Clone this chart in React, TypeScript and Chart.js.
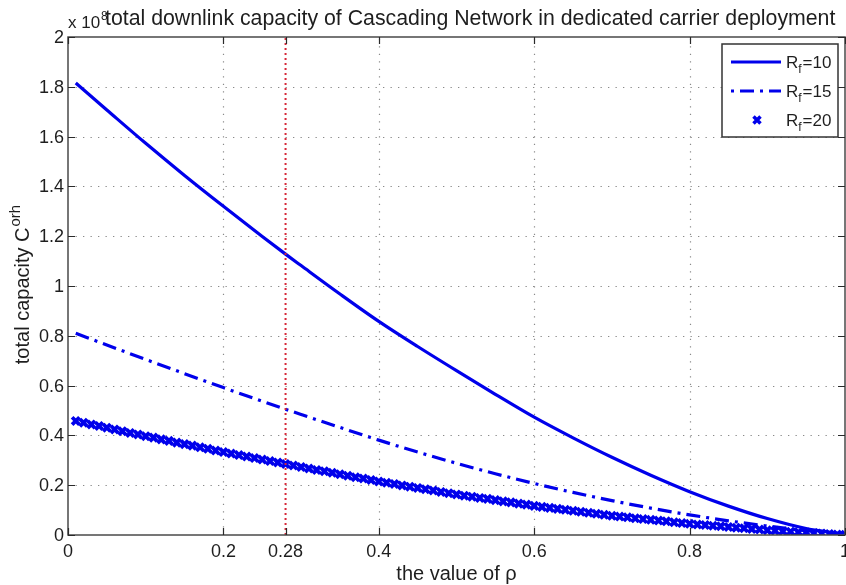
import React, { useEffect, useRef } from "react";
import { Chart, registerables } from "chart.js";

Chart.register(...registerables);

const FONT = '"Liberation Sans", Arial, Helvetica, sans-serif';
const BLUE = "rgb(0, 0, 235)";
const RED = "rgb(214, 40, 57)";
const INK = "#1e1e1e";

// ρ sample points for the two continuous curves
const rhoCurve = [0.01, 0.05, 0.1, 0.15, 0.2, 0.25, 0.28, 0.3, 0.35, 0.4, 0.45, 0.5, 0.55, 0.6, 0.65, 0.7, 0.75, 0.8, 0.85, 0.9, 0.95, 1.0];
// total capacity (×10^8) for R_f = 10
const capacityRf10 = [1.815, 1.707, 1.573, 1.444, 1.32, 1.199, 1.128, 1.082, 0.968, 0.858, 0.757, 0.66, 0.565, 0.473, 0.39, 0.312, 0.24, 0.174, 0.116, 0.066, 0.026, 0.003];
// total capacity (×10^8) for R_f = 15
const capacityRf15 = [0.81, 0.763, 0.705, 0.648, 0.592, 0.537, 0.505, 0.484, 0.432, 0.381, 0.333, 0.288, 0.246, 0.207, 0.171, 0.138, 0.108, 0.081, 0.057, 0.036, 0.017, 0.002];

// ρ sample points for the marker series
const rhoMarks = [
  0.01, 0.02, 0.03, 0.04, 0.05, 0.06, 0.07, 0.08, 0.09, 0.1,
  0.11, 0.12, 0.13, 0.14, 0.15, 0.16, 0.17, 0.18, 0.19, 0.2,
  0.21, 0.22, 0.23, 0.24, 0.25, 0.26, 0.27, 0.28, 0.29, 0.3,
  0.31, 0.32, 0.33, 0.34, 0.35, 0.36, 0.37, 0.38, 0.39, 0.4,
  0.41, 0.42, 0.43, 0.44, 0.45, 0.46, 0.47, 0.48, 0.49, 0.5,
  0.51, 0.52, 0.53, 0.54, 0.55, 0.56, 0.57, 0.58, 0.59, 0.6,
  0.61, 0.62, 0.63, 0.64, 0.65, 0.66, 0.67, 0.68, 0.69, 0.7,
  0.71, 0.72, 0.73, 0.74, 0.75, 0.76, 0.77, 0.78, 0.79, 0.8,
  0.81, 0.82, 0.83, 0.84, 0.85, 0.86, 0.87, 0.88, 0.89, 0.9,
  0.91, 0.92, 0.93, 0.94, 0.95, 0.96, 0.97, 0.98, 0.99, 1.0,
];
// total capacity (×10^8) for R_f = 20
const capacityRf20 = [
  0.458, 0.451, 0.444, 0.438, 0.431, 0.424, 0.417, 0.41, 0.404, 0.397,
  0.391, 0.384, 0.378, 0.371, 0.365, 0.359, 0.352, 0.346, 0.339, 0.333,
  0.327, 0.321, 0.315, 0.309, 0.303, 0.297, 0.291, 0.285, 0.279, 0.273,
  0.267, 0.261, 0.256, 0.25, 0.244, 0.238, 0.232, 0.227, 0.221, 0.215,
  0.21, 0.205, 0.199, 0.194, 0.189, 0.184, 0.179, 0.173, 0.168, 0.163,
  0.158, 0.154, 0.149, 0.145, 0.14, 0.135, 0.131, 0.126, 0.122, 0.117,
  0.113, 0.109, 0.105, 0.101, 0.097, 0.093, 0.089, 0.085, 0.081, 0.077,
  0.074, 0.071, 0.067, 0.064, 0.061, 0.058, 0.055, 0.051, 0.048, 0.045,
  0.042, 0.04, 0.037, 0.035, 0.032, 0.029, 0.027, 0.024, 0.022, 0.019,
  0.017, 0.015, 0.013, 0.011, 0.01, 0.008, 0.006, 0.004, 0.002, 0.001,
];

// chosen operating point
const markerRho = 0.28;

const xTicks = [0, 0.2, 0.28, 0.4, 0.6, 0.8, 1];
const xTickLabels = ["0", "0.2", "0.28", "0.4", "0.6", "0.8", "1"];
const xGrid = [0.2, 0.4, 0.6, 0.8];
const yTicks = [0, 0.2, 0.4, 0.6, 0.8, 1, 1.2, 1.4, 1.6, 1.8, 2];
const yTickLabels = ["0", "0.2", "0.4", "0.6", "0.8", "1", "1.2", "1.4", "1.6", "1.8", "2"];

const legendNames = ["10", "15", "20"];
const titleText = "total downlink capacity of Cascading Network in dedicated carrier deployment";
const xTitle = "the value of ρ";
const yTitle = "total capacity C";
const yTitleSup = "orh";
const DASH_DOT = [14, 6, 3, 6];

function drawCross(ctx: CanvasRenderingContext2D, cx: number, cy: number, r: number) {
  ctx.beginPath();
  ctx.moveTo(cx - r, cy - r);
  ctx.lineTo(cx + r, cy + r);
  ctx.moveTo(cx - r, cy + r);
  ctx.lineTo(cx + r, cy - r);
  ctx.stroke();
}

const frame = {
  id: "frame",
  beforeDatasetsDraw(chart: any) {
    const { ctx, chartArea: a, scales } = chart;
    const x = scales.x;
    const y = scales.y;
    ctx.save();
    ctx.strokeStyle = "#8a8a8a";
    ctx.lineWidth = 1.2;
    ctx.setLineDash([1.3, 6.2]);
    for (const v of xGrid) {
      const px = Math.round(x.getPixelForValue(v)) + 0.5;
      ctx.beginPath();
      ctx.moveTo(px, a.bottom);
      ctx.lineTo(px, a.top);
      ctx.stroke();
    }
    for (const v of yTicks) {
      if (v <= 0 || v >= 2) continue;
      const py = Math.round(y.getPixelForValue(v)) + 0.5;
      ctx.beginPath();
      ctx.moveTo(a.left, py);
      ctx.lineTo(a.right, py);
      ctx.stroke();
    }
    ctx.restore();
  },
  afterDatasetsDraw(chart: any) {
    const { ctx, chartArea: a, scales } = chart;
    const x = scales.x;
    const y = scales.y;
    ctx.save();

    // axes box and inward ticks
    ctx.strokeStyle = "#4a4a4a";
    ctx.lineWidth = 1.5;
    ctx.strokeRect(a.left, a.top, a.right - a.left, a.bottom - a.top);
    ctx.lineWidth = 1.2;
    ctx.strokeStyle = "#2a2a2a";
    for (const v of xTicks) {
      const px = Math.round(x.getPixelForValue(v)) + 0.5;
      ctx.beginPath();
      ctx.moveTo(px, a.bottom);
      ctx.lineTo(px, a.bottom - 7);
      ctx.moveTo(px, a.top);
      ctx.lineTo(px, a.top + 7);
      ctx.stroke();
    }
    for (const v of yTicks) {
      const py = Math.round(y.getPixelForValue(v)) + 0.5;
      ctx.beginPath();
      ctx.moveTo(a.left, py);
      ctx.lineTo(a.left + 7, py);
      ctx.moveTo(a.right, py);
      ctx.lineTo(a.right - 7, py);
      ctx.stroke();
    }

    // tick labels
    ctx.fillStyle = INK;
    ctx.font = `18px ${FONT}`;
    ctx.textAlign = "right";
    ctx.textBaseline = "middle";
    yTicks.forEach((v, i) => {
      ctx.fillText(yTickLabels[i], a.left - 4, y.getPixelForValue(v) + 1);
    });
    ctx.textAlign = "center";
    ctx.textBaseline = "top";
    xTicks.forEach((v, i) => {
      ctx.fillText(xTickLabels[i], x.getPixelForValue(v), a.bottom + 8);
    });

    // exponent marker
    ctx.textAlign = "left";
    ctx.textBaseline = "alphabetic";
    ctx.font = `17px ${FONT}`;
    ctx.fillText("x 10", 68, 28);
    ctx.font = `12px ${FONT}`;
    ctx.fillText("8", 101, 20);

    // title
    ctx.font = `21.3px ${FONT}`;
    ctx.fillText(titleText, 105, 25);

    // x axis title
    ctx.font = `20px ${FONT}`;
    ctx.textAlign = "center";
    ctx.fillText(xTitle, (a.left + a.right) / 2, 580);

    // y axis title with superscript
    ctx.save();
    ctx.translate(29, 285);
    ctx.rotate(-Math.PI / 2);
    ctx.font = `20px ${FONT}`;
    const wMain = ctx.measureText(yTitle).width;
    ctx.font = `15px ${FONT}`;
    const wSup = ctx.measureText(yTitleSup).width;
    const start = -(wMain + wSup) / 2;
    ctx.textAlign = "left";
    ctx.font = `20px ${FONT}`;
    ctx.fillText(yTitle, start, 0);
    ctx.font = `15px ${FONT}`;
    ctx.fillText(yTitleSup, start + wMain + 1, -9);
    ctx.restore();

    // legend
    const lx = 722, ly = 44, lw = 116, lh = 93;
    ctx.fillStyle = "#ffffff";
    ctx.fillRect(lx, ly, lw, lh);
    ctx.strokeStyle = "#333333";
    ctx.lineWidth = 1.5;
    ctx.strokeRect(lx, ly, lw, lh);
    const rows = [62, 91, 120];
    ctx.strokeStyle = BLUE;
    ctx.lineWidth = 3;
    ctx.beginPath();
    ctx.moveTo(731, rows[0]);
    ctx.lineTo(781, rows[0]);
    ctx.stroke();
    ctx.setLineDash([3, 6, 14, 6]);
    ctx.beginPath();
    ctx.moveTo(731, rows[1]);
    ctx.lineTo(781, rows[1]);
    ctx.stroke();
    ctx.setLineDash([]);
    ctx.lineWidth = 3.5;
    drawCross(ctx, 757, rows[2], 3.5);
    ctx.fillStyle = INK;
    ctx.textAlign = "left";
    rows.forEach((ry, i) => {
      ctx.font = `17px ${FONT}`;
      ctx.fillText("R", 786, ry + 6);
      const wR = ctx.measureText("R").width;
      ctx.font = `12px ${FONT}`;
      ctx.fillText("f", 786 + wR, ry + 11);
      const wf = ctx.measureText("f").width;
      ctx.font = `17px ${FONT}`;
      ctx.fillText("=" + legendNames[i], 786 + wR + wf + 1, ry + 6);
    });

    ctx.restore();
  },
};

export default function App() {
  const canvasRef = useRef<HTMLCanvasElement | null>(null);

  useEffect(() => {
    const canvas = canvasRef.current;
    if (!canvas) return;
    const chart = new Chart(canvas, {
      type: "scatter",
      data: {
        datasets: [
          {
            label: "rho = 0.28",
            data: [
              { x: markerRho, y: 0 },
              { x: markerRho, y: 2 },
            ],
            showLine: true,
            borderColor: RED,
            borderWidth: 2,
            borderDash: [2, 3],
            pointRadius: 0,
            order: 0,
          },
          {
            label: "Rf=10",
            data: rhoCurve.map((r, i) => ({ x: r, y: capacityRf10[i] })),
            showLine: true,
            borderColor: BLUE,
            borderWidth: 3.2,
            pointRadius: 0,
            cubicInterpolationMode: "monotone",
            order: 1,
          },
          {
            label: "Rf=15",
            data: rhoCurve.map((r, i) => ({ x: r, y: capacityRf15[i] })),
            showLine: true,
            borderColor: BLUE,
            borderWidth: 3.2,
            borderDash: DASH_DOT,
            pointRadius: 0,
            cubicInterpolationMode: "monotone",
            order: 2,
          },
          {
            label: "Rf=20",
            data: rhoMarks.map((r, i) => ({ x: r, y: capacityRf20[i] })),
            showLine: false,
            pointStyle: "crossRot",
            pointRadius: 5.2,
            pointBorderWidth: 3.8,
            pointBorderColor: BLUE,
            pointBackgroundColor: BLUE,
            borderColor: BLUE,
            order: 3,
          },
        ],
      },
      options: {
        animation: false,
        responsive: true,
        maintainAspectRatio: false,
        layout: { autoPadding: false, padding: { left: 68, top: 37, right: 1, bottom: 50 } },
        plugins: {
          legend: { display: false },
          tooltip: { enabled: false },
          title: { display: false },
        },
        scales: {
          x: {
            type: "linear",
            min: 0,
            max: 1,
            grid: { display: false },
            border: { display: false },
            ticks: { display: false },
            afterBuildTicks: (s: any) => {
              s.ticks = xTicks.map((v) => ({ value: v }));
            },
            afterFit: (s: any) => {
              s.height = 0;
            },
          },
          y: {
            type: "linear",
            min: 0,
            max: 2,
            grid: { display: false },
            border: { display: false },
            ticks: { display: false },
            afterBuildTicks: (s: any) => {
              s.ticks = yTicks.map((v) => ({ value: v }));
            },
            afterFit: (s: any) => {
              s.width = 0;
            },
          },
        },
      },
      plugins: [frame],
    });
    return () => chart.destroy();
  }, []);

  return (
    <div style={{ position: "absolute", left: 0, top: 0, width: 846, height: 585, background: "#ffffff" }}>
      <canvas ref={canvasRef} />
    </div>
  );
}
